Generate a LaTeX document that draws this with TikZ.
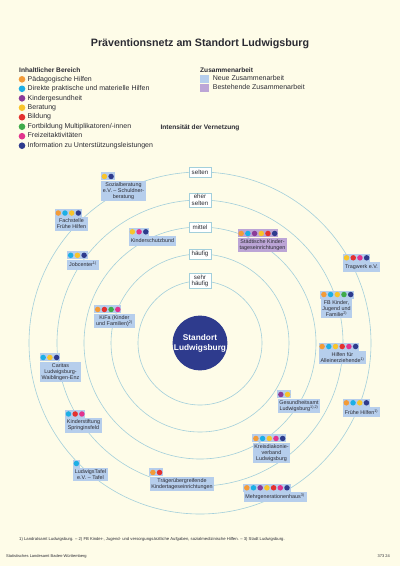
\documentclass[tikz,border=0pt]{standalone}
\usepackage{fontspec}
\setmainfont{Liberation Sans}
\usetikzlibrary{positioning}

\definecolor{paper}{HTML}{FEFCE8}
\definecolor{ringc}{HTML}{A3CFDB}
\definecolor{neu}{HTML}{B6CEEC}
\definecolor{best}{HTML}{BCA5D6}
\definecolor{ink}{HTML}{2B2B33}
\definecolor{cOra}{HTML}{F39B38}
\definecolor{cCya}{HTML}{1DAFE5}
\definecolor{cPur}{HTML}{8B3B98}
\definecolor{cYel}{HTML}{F8C42A}
\definecolor{cRed}{HTML}{E4322F}
\definecolor{cGre}{HTML}{3FAB4A}
\definecolor{cMag}{HTML}{E2338D}
\definecolor{cNav}{HTML}{2E3B8D}

% row of coloured dots on top of a box
\newcommand{\dotrow}[3][neu]{%
  \foreach \col [count=\i from 0] in {#3} {
    \fill[#1] ([xshift=\i*6.7pt]#2.north west) rectangle ++(7.1pt,8pt);
    \fill[\col] ([xshift=\i*6.7pt+3.5pt,yshift=4pt]#2.north west) circle[radius=2.75pt];
  }%
}

\begin{document}
\begin{tikzpicture}[
    x=1pt, y=-1pt,
    text=ink,
    org/.style={fill=neu, align=center, inner sep=1.8pt, minimum height=10pt,
      font=\fontsize{5.4}{6}\selectfont},
    oldorg/.style={org, fill=best},
    lvl/.style={draw=ringc, fill=white, line width=.5pt, align=center, inner sep=1.5pt,
      minimum width=22pt, minimum height=10pt, font=\fontsize{6.2}{6.6}\selectfont},
    head/.style={inner sep=1pt, font=\bfseries\fontsize{6.6}{8}\selectfont},
    item/.style={inner sep=1pt, text height=5pt, text depth=1.5pt, font=\fontsize{7}{8}\selectfont},
    key/.style={circle, inner sep=0pt, minimum size=6.6pt},
    sq/.style={inner sep=0pt, minimum width=9pt, minimum height=8pt}
  ]
    \fill[paper] (0,0) rectangle (400,566);
    \useasboundingbox (0,0) rectangle (400,566);

    \node[font=\bfseries\fontsize{10.7}{12}\selectfont] (title) at (200,44)
      {Präventionsnetz am Standort Ludwigsburg};

    % legend
    \node[head, anchor=west] (hBereich) at (18,70) {Inhaltlicher Bereich};
    \node[key, fill=cOra] (kOra) at (22,79.3) {};  \node[item, right=1pt of kOra] (tOra) {Pädagogische Hilfen};
    \node[key, fill=cCya] (kCya) at (22,88.8) {};  \node[item, right=1pt of kCya] (tCya) {Direkte praktische und materielle Hilfen};
    \node[key, fill=cPur] (kPur) at (22,98.3) {};  \node[item, right=1pt of kPur] (tPur) {Kindergesundheit};
    \node[key, fill=cYel] (kYel) at (22,107.7) {}; \node[item, right=1pt of kYel] (tYel) {Beratung};
    \node[key, fill=cRed] (kRed) at (22,117.2) {}; \node[item, right=1pt of kRed] (tRed) {Bildung};
    \node[key, fill=cGre] (kGre) at (22,126.7) {}; \node[item, right=1pt of kGre] (tGre) {Fortbildung Multiplikatoren/-innen};
    \node[key, fill=cMag] (kMag) at (22,136.2) {}; \node[item, right=1pt of kMag] (tMag) {Freizeitaktivitäten};
    \node[key, fill=cNav] (kNav) at (22,145.7) {}; \node[item, right=1pt of kNav] (tNav) {Information zu Unterstützungsleistungen};

    \node[head, anchor=west] (hZus) at (199,70) {Zusammenarbeit};
    \node[sq, fill=neu] (sqNeu) at (204.5,79) {};   \node[item, right=2.5pt of sqNeu] (tNeu) {Neue Zusammenarbeit};
    \node[sq, fill=best] (sqBest) at (204.5,88) {}; \node[item, right=2.5pt of sqBest] (tBest) {Bestehende Zusammenarbeit};

    \node[head] (hInt) at (200,128) {Intensität der Vernetzung};

    % rings
    \node[circle, fill=cNav, minimum size=54pt, inner sep=0pt, text=white, align=center,
      font=\bfseries\fontsize{8.3}{10}\selectfont] (ctr) at (200,343) {Standort\\Ludwigsburg};
    \foreach \r in {62pt,89pt,116pt,143pt,171pt}
      \draw[ringc, line width=.6pt] (ctr) circle[radius=\r];

    \node[lvl] (sehrh) at (200,281) {sehr\\häufig};
    \node[lvl] (haeuf) at (200,254) {häufig};
    \node[lvl] (mitt) at (200,227) {mittel};
    \node[lvl] (ehers) at (200,200) {eher\\selten};
    \node[lvl] (selt) at (200,172) {selten};

    % partners
    \node[org] (sozial) at (123.5,191) {Sozialberatung\\e.V. – Schuldner-\\beratung};
    \dotrow{sozial}{cYel,cNav}
    \node[org] (fachst) at (71.5,224) {Fachstelle\\Frühe Hilfen};
    \dotrow{fachst}{cOra,cCya,cYel,cNav}
    \node[org] (kschutz) at (152.5,241) {Kinderschutzbund};
    \dotrow{kschutz}{cYel,cMag,cNav}
    \node[oldorg] (kita) at (262.5,245) {Städtische Kinder-\\tageseinrichtungen};
    \dotrow[best]{kita}{cOra,cCya,cPur,cYel,cRed,cNav}
    \node[org] (tragw) at (361.5,267) {Tragwerk e.V.};
    \dotrow{tragw}{cYel,cRed,cMag,cNav}
    \node[org] (jobc) at (83,264.5) {Jobcenter\textsuperscript{1)}};
    \dotrow{jobc}{cCya,cYel,cNav}
    \node[org] (fbkjf) at (336.5,308.5) {FB Kinder,\\Jugend und\\Familie\textsuperscript{2)}};
    \dotrow{fbkjf}{cOra,cCya,cYel,cGre,cNav}
    \node[org] (kifa) at (114.5,321) {KiFa (Kinder\\und Familien)\textsuperscript{2)}};
    \dotrow{kifa}{cOra,cRed,cGre,cMag}
    \node[org] (allein) at (342.5,357.5) {Hilfen für\\Alleinerziehende\textsuperscript{1)}};
    \dotrow{allein}{cOra,cCya,cYel,cRed,cMag,cNav}
    \node[org] (caritas) at (60.5,372) {Caritas\\Ludwigsburg-\\Waiblingen-Enz};
    \dotrow{caritas}{cCya,cYel,cNav}
    \node[org] (gesamt) at (299,406) {Gesundheitsamt\\Ludwigsburg\textsuperscript{1),2)}};
    \dotrow{gesamt}{cPur,cYel}
    \node[org] (fruehe) at (361.5,412) {Frühe Hilfen\textsuperscript{1)}};
    \dotrow{fruehe}{cOra,cCya,cYel,cNav}
    \node[org] (kstift) at (83.5,425.5) {Kinderstiftung\\Springinsfeld};
    \dotrow{kstift}{cCya,cRed,cMag}
    \node[org] (diakon) at (271.5,453) {Kreisdiakonie-\\verband\\Ludwigsburg};
    \dotrow{diakon}{cOra,cCya,cYel,cMag,cNav}
    \node[org] (tafel) at (90.5,474.5) {LudwigsTafel\\e.V. – Tafel};
    \dotrow{tafel}{cCya}
    \node[org] (traeger) at (182,484) {Trägerübergreifende\\Kindertageseinrichtungen};
    \dotrow{traeger}{cOra,cRed}
    \node[org] (mgh) at (275,497) {Mehrgenerationenhaus\textsuperscript{3)}};
    \dotrow{mgh}{cOra,cCya,cPur,cYel,cRed,cMag,cNav}

    % footer
    \node[anchor=west, inner sep=1pt, font=\fontsize{4.2}{5}\selectfont] (fn) at (18,539)
      {1) Landratsamt Ludwigsburg. – 2) FB Kinder-, Jugend- und versorgungsärztliche Aufgaben, sozialmedizinische Hilfen. – 3) Stadt Ludwigsburg.};
    \node[anchor=west, inner sep=1pt, font=\fontsize{4}{5}\selectfont] (src) at (5,556)
      {Statistisches Landesamt Baden-Württemberg};
    \node[anchor=east, inner sep=1pt, font=\fontsize{4}{5}\selectfont] (nr) at (391,556) {373 24};
  \end{tikzpicture}
\end{document}
